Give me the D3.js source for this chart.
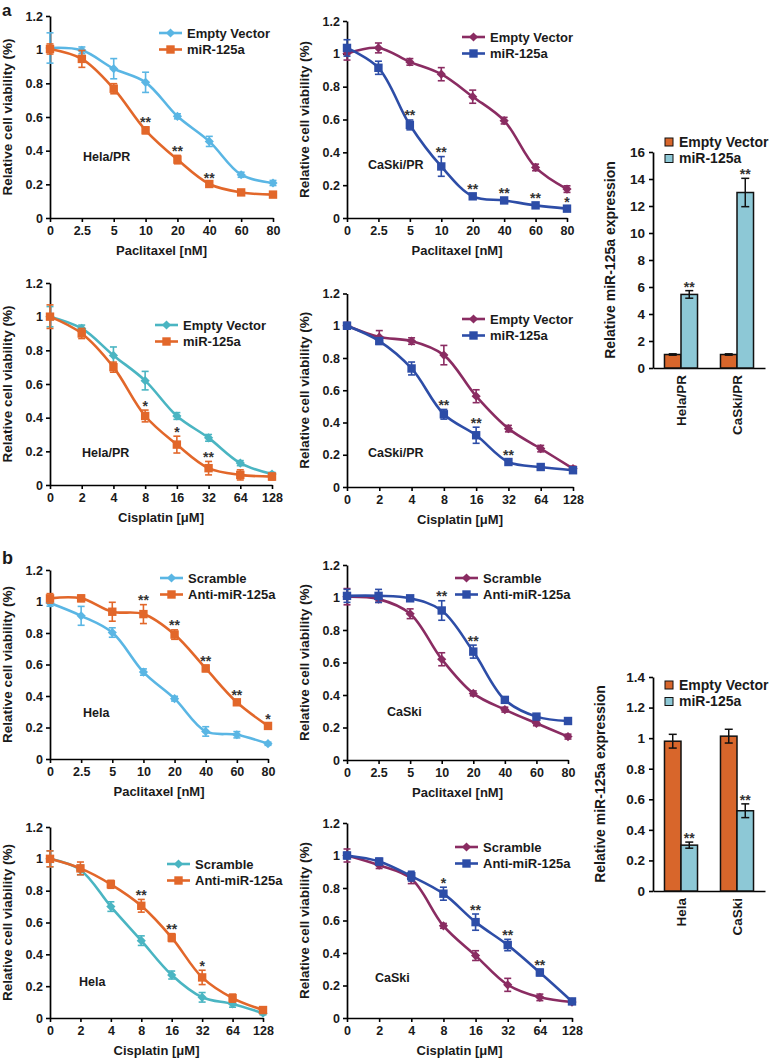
<!DOCTYPE html>
<html><head><meta charset="utf-8">
<script src="https://cdn.jsdelivr.net/npm/d3@7"></script>
<style>
body{margin:0;background:#fff;}
</style></head><body>
<svg id="fig" width="773" height="1061" xmlns="http://www.w3.org/2000/svg"></svg>
<script>
// ================= DATA =================
const pacDoses = ["0","2.5","5","10","20","40","60","80"];
const cisDoses = ["0","2","4","8","16","32","64","128"];
const viabilityTicks = [0,0.2,0.4,0.6,0.8,1,1.2];

// a: Hela/PR, paclitaxel
const a1Empty    = [1.01,0.996,0.887,0.806,0.604,0.455,0.257,0.208];
const a1EmptyErr = [0.09,0.02,0.06,0.06,0.015,0.03,0.015,0.015];
const a1Mir      = [1.004,0.945,0.768,0.521,0.347,0.202,0.152,0.139];
const a1MirErr   = [0.03,0.05,0.03,0.02,0.025,0.01,0.01,0.01];
const a1Stars    = ["","","","**","**","**","",""];
// a: CaSki/PR, paclitaxel
const a2Empty    = [1.002,1.036,0.951,0.876,0.739,0.593,0.308,0.176];
const a2EmptyErr = [0.04,0.03,0.02,0.04,0.04,0.02,0.02,0.02];
const a2Mir      = [1.036,0.915,0.567,0.314,0.132,0.107,0.077,0.057];
const a2MirErr   = [0.05,0.04,0.03,0.06,0.015,0.015,0.015,0.015];
const a2Stars    = ["","","**","**","**","**","**","*"];
// a: Hela/PR, cisplatin
const a4Empty    = [1.0,0.93,0.77,0.62,0.41,0.28,0.13,0.065];
const a4EmptyErr = [0.06,0.02,0.05,0.055,0.02,0.02,0.015,0.01];
const a4Mir      = [1.0,0.90,0.70,0.41,0.24,0.10,0.06,0.05];
const a4MirErr   = [0.07,0.03,0.03,0.035,0.05,0.04,0.03,0.02];
const a4Stars    = ["","","","*","*","**","",""];
// a: CaSki/PR, cisplatin
const a5Empty    = [1.0,0.93,0.905,0.818,0.563,0.362,0.238,0.114];
const a5EmptyErr = [0.02,0.04,0.02,0.06,0.04,0.02,0.02,0.015];
const a5Mir      = [1.0,0.905,0.735,0.451,0.321,0.155,0.124,0.104];
const a5MirErr   = [0.02,0.02,0.04,0.03,0.05,0.015,0.01,0.015];
const a5Stars    = ["","","","**","**","**","",""];
// b: Hela, paclitaxel
const b1Scr      = [0.99,0.909,0.803,0.552,0.383,0.175,0.154,0.097];
const b1ScrErr   = [0.02,0.06,0.03,0.02,0.015,0.03,0.02,0.01];
const b1Anti     = [1.02,1.02,0.935,0.92,0.79,0.575,0.36,0.21];
const b1AntiErr  = [0.03,0.02,0.06,0.06,0.03,0.02,0.015,0.015];
const b1Stars    = ["","","","**","**","**","**","*"];
// b: CaSki, paclitaxel
const b2Scr      = [1.005,0.99,0.90,0.62,0.41,0.31,0.226,0.144];
const b2ScrErr   = [0.05,0.02,0.03,0.04,0.015,0.015,0.015,0.015];
const b2Anti     = [1.01,1.01,0.995,0.92,0.667,0.37,0.267,0.24];
const b2AntiErr  = [0.04,0.04,0.01,0.06,0.04,0.015,0.015,0.01];
const b2Stars    = ["","","","**","**","","",""];
// b: Hela, cisplatin
const b4Scr      = [1.0,0.93,0.70,0.486,0.27,0.13,0.088,0.03];
const b4ScrErr   = [0.05,0.03,0.03,0.03,0.025,0.03,0.02,0.01];
const b4Anti     = [1.0,0.94,0.84,0.705,0.505,0.255,0.125,0.05];
const b4AntiErr  = [0.05,0.04,0.025,0.04,0.025,0.045,0.025,0.015];
const b4Stars    = ["","","","**","**","*","",""];
// b: CaSki, cisplatin
const b5Scr      = [1.0,0.94,0.857,0.567,0.384,0.204,0.127,0.098];
const b5ScrErr   = [0.04,0.02,0.03,0.015,0.03,0.04,0.02,0.01];
const b5Anti     = [1.0,0.963,0.873,0.765,0.59,0.449,0.28,0.102];
const b5AntiErr  = [0.02,0.02,0.03,0.04,0.05,0.035,0.02,0.015];
const b5Stars    = ["","","","*","**","**","**",""];

// bar charts
const barSeries     = ["Empty Vector","miR-125a"];
const barGroupsA    = ["Hela/PR","CaSki/PR"];
const barEmptyA     = [1.0,1.0];
const barEmptyErrA  = [0.05,0.05];
const barMirA       = [5.45,13.0];
const barMirErrA    = [0.28,1.05];
const barStarsA     = ["**","**"];
const barTicksA     = [0,2,4,6,8,10,12,14,16];
const barGroupsB    = ["Hela","CaSki"];
const barEmptyB     = [0.98,1.013];
const barEmptyErrB  = [0.045,0.045];
const barMirB       = [0.30,0.525];
const barMirErrB    = [0.02,0.045];
const barStarsB     = ["**","**"];
const barTicksB     = [0,0.2,0.4,0.6,0.8,1,1.2,1.4];

// ================= DRAWING =================
const FONT = "'Liberation Sans', Arial, Helvetica, sans-serif";
const TXT = "#1a1a1a";
const C = {lightBlue:"#5AB6E4", teal:"#4AB5C2", orange:"#E2672A", purple:"#8A2C62", blue:"#2D4DA7",
           barOrange:"#D8662B", barBlue:"#8DC8D6"};
const svg = d3.select("#fig");

function txt(sel, x, y, s, size, anchor) {
  return sel.append("text").attr("x", x).attr("y", y).text(s)
    .attr("font-family", FONT).attr("font-weight", "bold").attr("font-size", size)
    .attr("fill", TXT).attr("text-anchor", anchor || "start");
}
function marker(sel, shape, cx, cy, color) {
  if (shape === "diamond") {
    const r = 4.6;
    sel.append("path").attr("d", `M${cx},${cy-r}L${cx+r},${cy}L${cx},${cy+r}L${cx-r},${cy}Z`).attr("fill", color);
  } else {
    const s = 8.4;
    sel.append("rect").attr("x", cx-s/2).attr("y", cy-s/2).attr("width", s).attr("height", s).attr("fill", color);
  }
}
function styleAxis(g, fs) {
  g.select(".domain").attr("stroke", "#000").attr("stroke-width", 1.7);
  g.selectAll(".tick line").attr("stroke", "#000").attr("stroke-width", 1.6);
  g.selectAll(".tick text").attr("font-family", FONT).attr("font-weight", "bold")
    .attr("font-size", fs).attr("fill", TXT);
}

function linePanel(p) {
  const g = svg.append("g");
  const x = d3.scalePoint().domain(p.doses).range([p.x0, p.x1]);
  const y = d3.scaleLinear().domain([0, 1.2]).range([p.y0, p.yTop]);
  const ax = g.append("g").attr("transform", `translate(0,${p.y0})`)
    .call(d3.axisBottom(x).tickSize(4).tickSizeOuter(0).tickPadding(4));
  styleAxis(ax, 12.5);
  const ay = g.append("g").attr("transform", `translate(${p.x0},0)`)
    .call(d3.axisLeft(y).tickValues(viabilityTicks).tickFormat(d3.format("~g")).tickSize(4).tickSizeOuter(0).tickPadding(3));
  styleAxis(ay, 12.5);

  const line = d3.line().x((d, i) => x(p.doses[i])).y(d => y(d)).curve(d3.curveCatmullRom.alpha(0.5));
  p.series.forEach(s => {
    g.append("path").datum(s.values).attr("d", line).attr("fill", "none")
      .attr("stroke", s.color).attr("stroke-width", 2.6);
    s.values.forEach((v, i) => {
      const cx = x(p.doses[i]), e = s.err[i];
      g.append("line").attr("x1", cx).attr("x2", cx).attr("y1", y(v - e)).attr("y2", y(v + e))
        .attr("stroke", s.color).attr("stroke-width", 1.6);
      [v - e, v + e].forEach(w => g.append("line").attr("x1", cx - 3.5).attr("x2", cx + 3.5)
        .attr("y1", y(w)).attr("y2", y(w)).attr("stroke", s.color).attr("stroke-width", 1.6));
      marker(g, s.shape, cx, y(v), s.color);
    });
  });
  const top = p.series[1];
  p.stars.forEach((st, i) => {
    if (!st) return;
    txt(g, x(p.doses[i]), y(top.values[i] + top.err[i]) + 0.5, st, 14, "middle").attr("fill", "#333");
  });
  // legend
  p.series.forEach((s, k) => {
    const ly = p.legY + k * 16.5;
    g.append("line").attr("x1", p.legX).attr("x2", p.legX + 23).attr("y1", ly).attr("y2", ly)
      .attr("stroke", s.color).attr("stroke-width", 2.6);
    marker(g, s.shape, p.legX + 11.5, ly, s.color);
    txt(g, p.legX + 28, ly, s.name, 13).attr("dy", "0.35em");
  });
  txt(g, p.labX, p.labY, p.label, 12.5).attr("dy", "0.35em");
  txt(g, (p.x0 + p.x1) / 2, p.y0 + 37, p.xTitle, 13, "middle");
  txt(g, 0, 0, "Relative cell viability (%)", 13.5, "middle").attr("dy", "0.35em")
    .attr("transform", `translate(${p.x0 - 43},${(p.y0 + p.yTop) / 2}) rotate(-90)`);
}

function barPanel(p) {
  const g = svg.append("g");
  const x = d3.scaleBand().domain(p.groups).range([p.x0, p.x1]);
  const bw = x.bandwidth();
  const xs = d3.scaleBand().domain(barSeries).range([bw * 0.205, bw * 0.795]);
  const y = d3.scaleLinear().domain([0, p.max]).range([p.y0, p.yTop]);
  const ay = g.append("g").attr("transform", `translate(${p.x0},0)`)
    .call(d3.axisLeft(y).tickValues(p.ticks).tickFormat(d3.format("~g")).tickSize(4).tickSizeOuter(0).tickPadding(4));
  styleAxis(ay, 13.5);
  const ax = g.append("g").attr("transform", `translate(0,${p.y0})`)
    .call(d3.axisBottom(x).tickSize(0).tickSizeOuter(0).tickFormat(""));
  styleAxis(ax, 13.5);

  const sets = [{vals: p.empty, err: p.emptyErr, color: C.barOrange, name: barSeries[0]},
                {vals: p.mir, err: p.mirErr, color: C.barBlue, name: barSeries[1]}];
  sets.forEach(s => {
    p.groups.forEach((grp, i) => {
      const bx = x(grp) + xs(s.name), v = s.vals[i], e = s.err[i];
      g.append("rect").attr("x", bx).attr("y", y(v)).attr("width", xs.bandwidth()).attr("height", p.y0 - y(v))
        .attr("fill", s.color).attr("stroke", "#111").attr("stroke-width", 1.5);
      const cx = bx + xs.bandwidth() / 2;
      g.append("line").attr("x1", cx).attr("x2", cx).attr("y1", y(v - e)).attr("y2", y(v + e))
        .attr("stroke", "#111").attr("stroke-width", 1.5);
      [v - e, v + e].forEach(w => g.append("line").attr("x1", cx - 4).attr("x2", cx + 4)
        .attr("y1", y(w)).attr("y2", y(w)).attr("stroke", "#111").attr("stroke-width", 1.5));
    });
  });
  p.groups.forEach((grp, i) => {
    const cx = x(grp) + xs(barSeries[1]) + xs.bandwidth() / 2;
    txt(g, cx, y(p.mir[i] + p.mirErr[i]) + 1, p.stars[i], 14, "middle").attr("fill", "#333");
    txt(g, 0, 0, grp, 13.5, "end").attr("dy", "0.35em")
      .attr("transform", `translate(${x(grp) + bw / 2},${p.y0 + 7}) rotate(-90)`);
  });
  sets.forEach((s, k) => {
    const ly = p.legY + k * 16.5;
    g.append("rect").attr("x", p.legX - 4).attr("y", ly - 4).attr("width", 8).attr("height", 8)
      .attr("fill", s.color).attr("stroke", "#111").attr("stroke-width", 1);
    txt(g, p.legX + 10, ly, s.name, 14).attr("dy", "0.35em");
  });
  txt(g, 0, 0, "Relative miR-125a expression", 14, "middle").attr("dy", "0.35em")
    .attr("transform", `translate(${p.titleX},${(p.y0 + p.yTop) / 2}) rotate(-90)`);
}

function S(name, values, err, color, shape) { return {name, values, err, color, shape}; }

// panel letters
txt(svg, 2, 16, "a", 17);
txt(svg, 2, 564, "b", 18);

linePanel({doses: pacDoses, x0: 50, x1: 273, y0: 218, yTop: 16, legX: 159, legY: 33, labX: 83, labY: 157,
  label: "Hela/PR", xTitle: "Paclitaxel [nM]", stars: a1Stars,
  series: [S("Empty Vector", a1Empty, a1EmptyErr, C.lightBlue, "diamond"), S("miR-125a", a1Mir, a1MirErr, C.orange, "square")]});
linePanel({doses: pacDoses, x0: 347, x1: 567, y0: 218, yTop: 21, legX: 462, legY: 37, labX: 368, labY: 165,
  label: "CaSki/PR", xTitle: "Paclitaxel [nM]", stars: a2Stars,
  series: [S("Empty Vector", a2Empty, a2EmptyErr, C.purple, "diamond"), S("miR-125a", a2Mir, a2MirErr, C.blue, "square")]});
linePanel({doses: cisDoses, x0: 50, x1: 272, y0: 485, yTop: 283, legX: 155, legY: 325, labX: 82, labY: 453,
  label: "Hela/PR", xTitle: "Cisplatin [μM]", stars: a4Stars,
  series: [S("Empty Vector", a4Empty, a4EmptyErr, C.teal, "diamond"), S("miR-125a", a4Mir, a4MirErr, C.orange, "square")]});
linePanel({doses: cisDoses, x0: 347, x1: 573, y0: 487, yTop: 293.5, legX: 462, legY: 319, labX: 368, labY: 453,
  label: "CaSki/PR", xTitle: "Cisplatin [μM]", stars: a5Stars,
  series: [S("Empty Vector", a5Empty, a5EmptyErr, C.purple, "diamond"), S("miR-125a", a5Mir, a5MirErr, C.blue, "square")]});

linePanel({doses: pacDoses, x0: 50, x1: 268, y0: 759, yTop: 570, legX: 160, legY: 578, labX: 83, labY: 713,
  label: "Hela", xTitle: "Paclitaxel [nM]", stars: b1Stars,
  series: [S("Scramble", b1Scr, b1ScrErr, C.lightBlue, "diamond"), S("Anti-miR-125a", b1Anti, b1AntiErr, C.orange, "square")]});
linePanel({doses: pacDoses, x0: 347, x1: 568, y0: 760, yTop: 565, legX: 455, legY: 578, labX: 387, labY: 712,
  label: "CaSki", xTitle: "Paclitaxel [nM]", stars: b2Stars,
  series: [S("Scramble", b2Scr, b2ScrErr, C.purple, "diamond"), S("Anti-miR-125a", b2Anti, b2AntiErr, C.blue, "square")]});
linePanel({doses: cisDoses, x0: 50, x1: 263, y0: 1018, yTop: 827, legX: 167, legY: 864, labX: 79, labY: 982,
  label: "Hela", xTitle: "Cisplatin [μM]", stars: b4Stars,
  series: [S("Scramble", b4Scr, b4ScrErr, C.teal, "diamond"), S("Anti-miR-125a", b4Anti, b4AntiErr, C.orange, "square")]});
linePanel({doses: cisDoses, x0: 347, x1: 572, y0: 1018, yTop: 823, legX: 455, legY: 847, labX: 375, labY: 978,
  label: "CaSki", xTitle: "Cisplatin [μM]", stars: b5Stars,
  series: [S("Scramble", b5Scr, b5ScrErr, C.purple, "diamond"), S("Anti-miR-125a", b5Anti, b5AntiErr, C.blue, "square")]});

barPanel({groups: barGroupsA, empty: barEmptyA, emptyErr: barEmptyErrA, mir: barMirA, mirErr: barMirErrA,
  stars: barStarsA, ticks: barTicksA, max: 16, x0: 653, x1: 765, y0: 368, yTop: 152, legX: 669, legY: 142, titleX: 610});
barPanel({groups: barGroupsB, empty: barEmptyB, emptyErr: barEmptyErrB, mir: barMirB, mirErr: barMirErrB,
  stars: barStarsB, ticks: barTicksB, max: 1.4, x0: 653, x1: 765, y0: 891, yTop: 677, legX: 669, legY: 685, titleX: 600});
</script>
</body></html>
